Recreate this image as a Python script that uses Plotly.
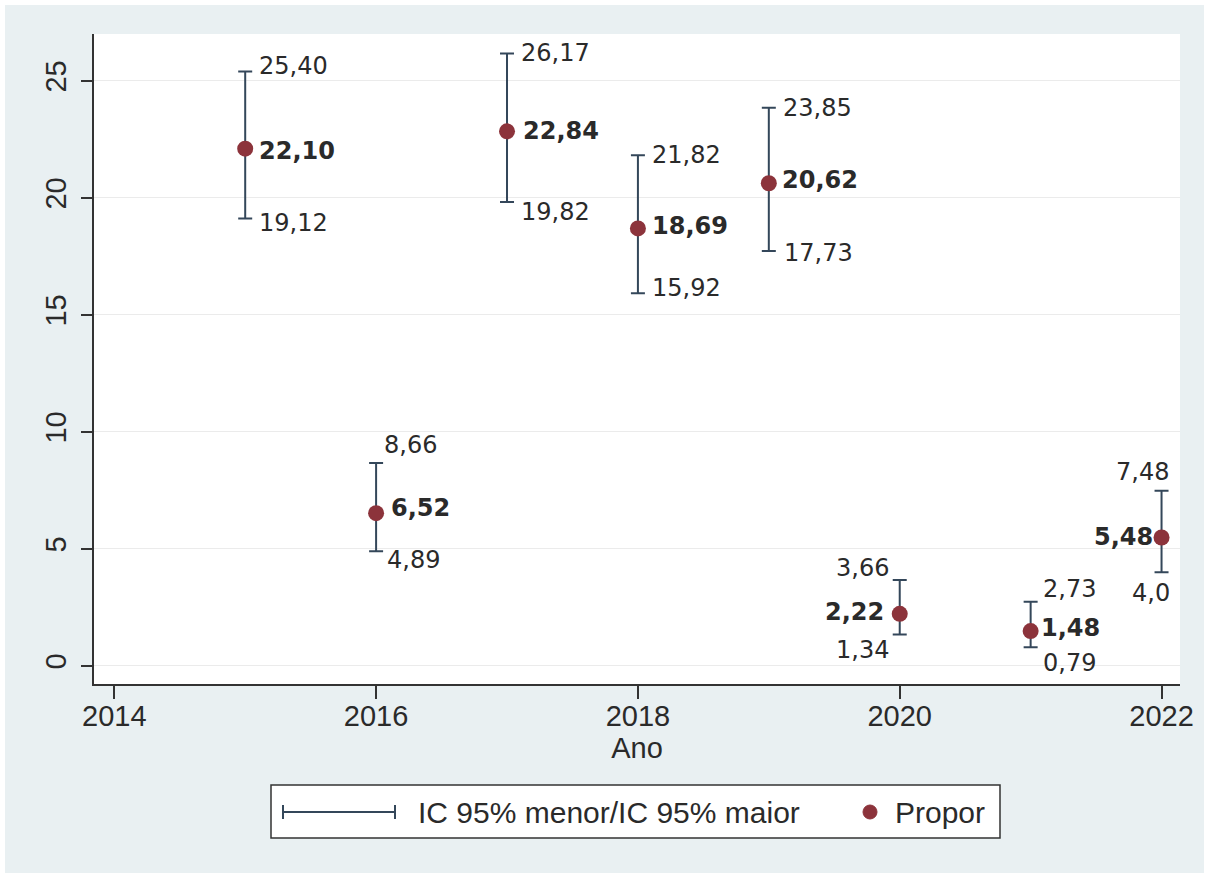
import plotly.graph_objects as go

# ---- data ----
anos = [2015, 2016, 2017, 2018, 2019, 2020, 2021, 2022]
propor = [22.10, 6.52, 22.84, 18.69, 20.62, 2.22, 1.48, 5.48]
ic_menor = [19.12, 4.89, 19.82, 15.92, 17.73, 1.34, 0.79, 4.00]
ic_maior = [25.40, 8.66, 26.17, 21.82, 23.85, 3.66, 2.73, 7.48]
x_ticks = [2014, 2016, 2018, 2020, 2022]
y_ticks = [0, 5, 10, 15, 20, 25]
legend_ic = "IC 95% menor/IC 95% maior"
legend_prop = "Propor"


def fmt(v):
    return f"{v:.2f}".replace(".", ",")


txt_prop = [fmt(v) for v in propor]
txt_maior = [fmt(v) for v in ic_maior]
txt_menor = [fmt(v) for v in ic_menor]
txt_menor[-1] = "4,0"

# ---- label placement (anchor side, dx px, dy px downwards) ----
pos_maior = [("left", 12, -5), ("left", 6, -18), ("left", 12, 0), ("left", 12, 0),
             ("left", 12, 0), ("right", -9, -12), ("left", 10, -13), ("right", 9, -19)]
pos_prop = [("left", 12, 2), ("left", 13, -5), ("left", 14, 0), ("left", 12, -2),
            ("left", 11, -3), ("right", -14, -2), ("left", 8, -3), ("right", -7, -1)]
pos_menor = [("left", 12, 5), ("left", 9, 9), ("left", 12, 10), ("left", 12, -5),
             ("left", 13, 2), ("right", -9, 16), ("left", 10, 16), ("right", 10, 21)]

W, H = 1209, 878
ML, MR, MT, MB = 94, 29, 34, 194
PW, PH = W - ML - MR, H - MT - MB


def px(xp):
    return (xp - ML) / PW


def py(yp):
    return (H - MB - yp) / PH


BG = "#e9f0f2"
ERR = "#34475a"
MAR = "#8c333b"
TXT = "#2a2a2a"
AX = "#333333"

fig = go.Figure()
fig.add_trace(go.Scatter(
    x=anos, y=propor, mode="markers",
    marker=dict(color=MAR, size=16),
    error_y=dict(type="data", symmetric=False,
                 array=[u - p for u, p in zip(ic_maior, propor)],
                 arrayminus=[p - l for p, l in zip(propor, ic_menor)],
                 color=ERR, thickness=2, width=7),
    showlegend=False, hoverinfo="skip",
))

ann = []


def add_labels(ys, texts, positions, bold=False):
    for x, y, t, (side, dx, dy) in zip(anos, ys, texts, positions):
        ann.append(dict(
            x=x, y=y, xref="x", yref="y", text=(f"<b>{t}</b>" if bold else t),
            showarrow=False, xanchor=side, yanchor="middle",
            xshift=dx, yshift=-dy,
            font=dict(family="DejaVu Sans", size=24, color=TXT),
        ))


add_labels(ic_maior, txt_maior, pos_maior)
add_labels(propor, txt_prop, pos_prop, bold=True)
add_labels(ic_menor, txt_menor, pos_menor)

# legend texts
ann.append(dict(x=px(416), y=py(812), xref="paper", yref="paper", text=legend_ic,
                showarrow=False, xanchor="left", yanchor="middle",
                font=dict(family="Liberation Sans, Arial", size=30, color=TXT)))
ann.append(dict(x=px(893), y=py(812), xref="paper", yref="paper", text=legend_prop,
                showarrow=False, xanchor="left", yanchor="middle",
                font=dict(family="Liberation Sans, Arial", size=30, color=TXT)))

shapes = [
    # outer light background
    dict(type="rect", xref="paper", yref="paper", layer="below",
         x0=px(5), x1=px(1204), y0=py(873), y1=py(5),
         fillcolor=BG, line=dict(width=0)),
    # plot area
    dict(type="rect", xref="paper", yref="paper", layer="below",
         x0=0, x1=1, y0=0, y1=1, fillcolor="white", line=dict(width=0)),
    # legend box
    dict(type="rect", xref="paper", yref="paper", layer="below",
         x0=px(271), x1=px(1000), y0=py(838), y1=py(785),
         fillcolor="white", line=dict(color=AX, width=1.5)),
    # legend error-bar symbol
    dict(type="line", xref="paper", yref="paper",
         x0=px(283), x1=px(395), y0=py(812), y1=py(812), line=dict(color=ERR, width=2)),
    dict(type="line", xref="paper", yref="paper",
         x0=px(283), x1=px(283), y0=py(805), y1=py(819), line=dict(color=ERR, width=2)),
    dict(type="line", xref="paper", yref="paper",
         x0=px(395), x1=px(395), y0=py(805), y1=py(819), line=dict(color=ERR, width=2)),
    # legend marker
    dict(type="circle", xref="paper", yref="paper",
         x0=px(863), x1=px(877), y0=py(819), y1=py(805),
         fillcolor=MAR, line=dict(color=MAR, width=1)),
]

fig.update_layout(
    width=W, height=H,
    margin=dict(l=ML, r=MR, t=MT, b=MB, pad=0),
    paper_bgcolor="white", plot_bgcolor="white",
    font=dict(family="Liberation Sans, Arial", size=29, color=TXT),
    annotations=ann, shapes=shapes,
    xaxis=dict(range=[2013.845, 2022.141], tickvals=x_ticks,
               ticks="outside", ticklen=13, tickwidth=1.5, tickcolor=AX,
               showline=True, linecolor=AX, linewidth=1.5, showgrid=False,
               zeroline=False, tickfont=dict(size=29, color=TXT),
               ticklabelstandoff=-8,
               title=dict(text="Ano", font=dict(size=29, color=TXT), standoff=0)),
    yaxis=dict(range=[-0.78, 27.0], tickvals=y_ticks, tickangle=-90,
               ticks="outside", ticklen=11, tickwidth=1.5, tickcolor=AX,
               showline=True, linecolor=AX, linewidth=1.5,
               showgrid=True, gridcolor="#ebebeb", gridwidth=1,
               zeroline=False, tickfont=dict(size=29, color=TXT),
               ticklabelstandoff=4),
)

fig.write_html("out.html")
